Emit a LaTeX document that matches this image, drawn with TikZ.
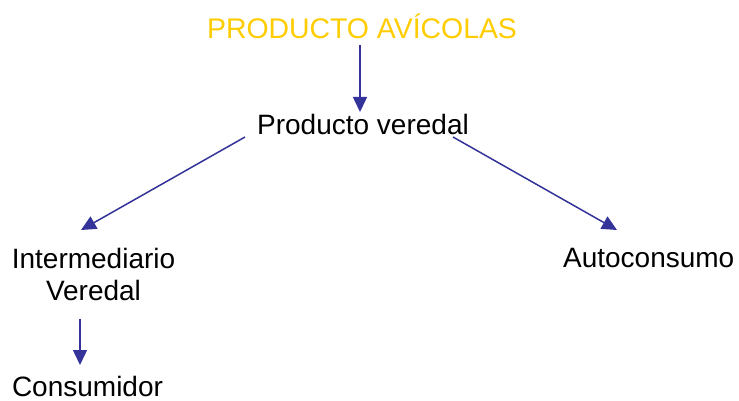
\documentclass[tikz,border=0pt]{standalone}
\usepackage{fontspec}
\setmainfont{Liberation Sans}
\usetikzlibrary{arrows.meta}
\definecolor{arrowblue}{HTML}{333399}
\definecolor{titleyellow}{HTML}{FFCC00}
\tikzset{
  lbl/.style={inner sep=0pt, font=\fontsize{28}{32}\selectfont, text=black},
  conn/.style={draw=arrowblue, line width=1.5pt, -{Triangle[length=15pt,width=14pt]}}
}
\begin{document}
\begin{tikzpicture}[x=1pt,y=-1pt]
\useasboundingbox (0,0) rectangle (739,401);
\node[lbl, text=titleyellow, anchor=base, font=\fontsize{28.4}{32}\selectfont] (title) at (362,38.3) {PRODUCTO AVÍCOLAS};
\node[lbl, anchor=base] (pv) at (363,135) {Producto veredal};
\node[lbl, anchor=north, align=center] (inter) at (93.5,247.6) {Intermediario\\Veredal};
\node[lbl, anchor=base] (auto) at (648.7,267) {Autoconsumo};
\node[lbl, anchor=base] (cons) at (87.5,396.5) {Consumidor};
\draw[conn] ([xshift=-2pt,yshift=-6.7pt]title.base) -- ([xshift=-3pt,yshift=23pt]pv.base);
\draw[conn] ([xshift=-118pt,yshift=-2pt]pv.base) -- ([xshift=-12.5pt,yshift=17.6pt]inter.north);
\draw[conn] ([xshift=90pt,yshift=-2pt]pv.base) -- ([xshift=-31.7pt,yshift=37pt]auto.base);
\draw[conn] ([xshift=-13.5pt,yshift=-18pt]inter.south) -- ([xshift=-7.5pt,yshift=31.5pt]cons.base);
\end{tikzpicture}
\end{document}
